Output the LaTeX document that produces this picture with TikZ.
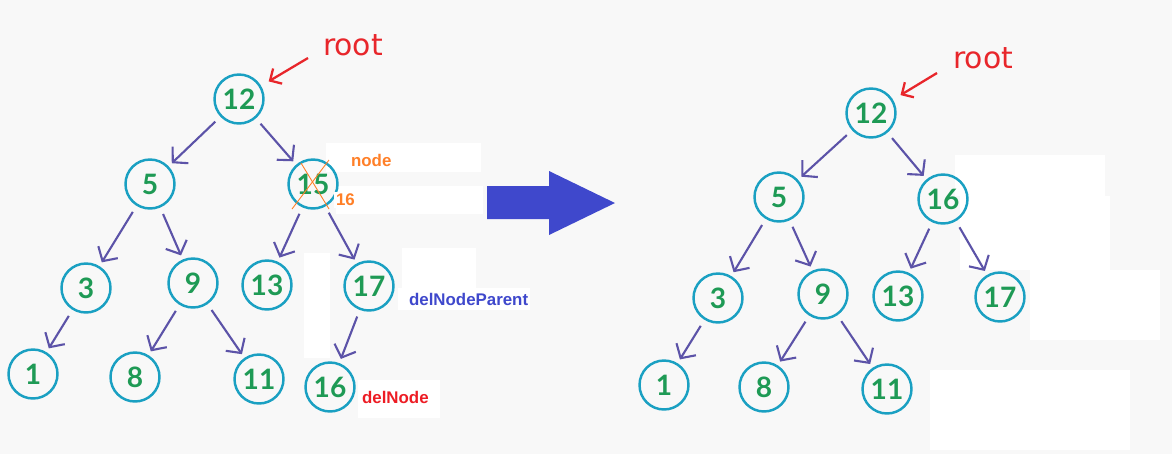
\documentclass[tikz,border=0pt]{standalone}
\usepackage{fontspec}
\setmainfont{Liberation Sans}
\newfontfamily\digitfont{Lato}
\newfontfamily\rootfont{DejaVu Sans}
\usetikzlibrary{arrows.meta}
\definecolor{bgc}{HTML}{F8F8F8}
\definecolor{ringc}{HTML}{1AA0C2}
\definecolor{digitc}{HTML}{1E9A55}
\definecolor{edgec}{HTML}{5C53A8}
\definecolor{bigc}{HTML}{3F48CC}
\definecolor{orangec}{HTML}{FF7F27}
\definecolor{redc}{HTML}{E8262B}
\definecolor{dredc}{HTML}{ED1C24}
\tikzset{
  tnode/.style={circle, draw=ringc, line width=1.4pt, minimum size=0.98cm, inner sep=0pt,
    text=digitc, font=\digitfont\bfseries\fontsize{16}{16}\selectfont},
  edge/.style={draw=edgec, line width=1.2pt, shorten <=4pt, shorten >=2.5pt,
    -{Straight Barb[length=6pt,width=13pt,line width=1.2pt]}},
  rootarrow/.style={draw=redc, line width=1.3pt, shorten >=5pt,
    -{Straight Barb[length=5pt,width=10pt,line width=1.3pt]}},
  rootlbl/.style={text=redc, font=\rootfont\fontsize{17}{17}\selectfont, inner sep=0pt},
  lbl/.style={font=\bfseries\fontsize{9.6}{10}\selectfont, inner sep=1pt, fill=white},
  patch/.style={fill=white, draw=none},
}
\begin{document}
\begin{tikzpicture}[x=0.02cm,y=-0.02cm]
\fill[bgc] (0,0) rectangle (1172,454);
\useasboundingbox (0,0) rectangle (1172,454);
% white patches
\fill[patch] (326,143) rectangle (481,172);
\fill[patch] (336,186) rectangle (483,214);
\fill[patch] (304,253) rectangle (330,358);
\fill[patch] (402,248) rectangle (476,288);
\fill[patch] (398,288) rectangle (530,310);
\fill[patch] (358,380) rectangle (440,418);
\fill[patch] (955,155) rectangle (1105,196);
\fill[patch] (960,196) rectangle (1110,270);
\fill[patch] (1030,270) rectangle (1160,340);
\fill[patch] (930,370) rectangle (1130,450);
% ---------- left tree ----------
\node[tnode] (L12) at (239,99) {12};
\node[tnode] (L5)  at (150,184) {5};
\node[tnode] (L15) at (313,184) {15};
\node[tnode] (L3)  at (86,288) {3};
\node[tnode] (L9)  at (193,283) {9};
\node[tnode] (L13) at (267,285) {13};
\node[tnode] (L17) at (369,286) {17};
\node[tnode] (L1)  at (33,374) {1};
\node[tnode] (L8)  at (135,377) {8};
\node[tnode] (L11) at (259,379) {11};
\node[tnode] (L16) at (330,387) {16};
\draw[edge] (L12) -- (L5);
\draw[edge] (L12) -- (L15);
\draw[edge] (L5) -- (L3);
\draw[edge] (L5) -- (L9);
\draw[edge] (L15) -- (L13);
\draw[edge] (L15) -- (L17);
\draw[edge] (L3) -- (L1);
\draw[edge] (L9) -- (L8);
\draw[edge] (L9) -- (L11);
\draw[edge] (L17) -- (L16);
% cross on 15
\draw[orangec, line width=0.5pt] (292,209) -- (329,160);
\draw[orangec, line width=0.5pt] (301,163) -- (329,209);
% root label left
\node[rootlbl] (Lroot) at (353,45) {root};
\coordinate (Lrs) at (308,58);
\draw[rootarrow] (Lrs) -- (L12);
% labels
\node[lbl, text=orangec, anchor=west] (lnode) at (349,160) {node};
\node[lbl, text=orangec, anchor=west] (l16) at (334,200) {16};
\node[lbl, text=bigc, anchor=west] (lpar) at (407,299) {delNodeParent};
\node[lbl, text=dredc, anchor=west] (ldel) at (360,397) {delNode};
% big arrow
\fill[bigc] (487,186) -- (549,186) -- (549,171) -- (615,203) -- (549,235) -- (549,219) -- (487,219) -- cycle;
% ---------- right tree ----------
\node[tnode] (R12) at (871,113) {12};
\node[tnode] (R5)  at (779,197) {5};
\node[tnode] (R16) at (943,199) {16};
\node[tnode] (R3)  at (718,298) {3};
\node[tnode] (R9)  at (823,294) {9};
\node[tnode] (R13) at (898,296) {13};
\node[tnode] (R17) at (1000,297) {17};
\node[tnode] (R1)  at (664,385) {1};
\node[tnode] (R8)  at (764,387) {8};
\node[tnode] (R11) at (887,389) {11};
\draw[edge] (R12) -- (R5);
\draw[edge] (R12) -- (R16);
\draw[edge] (R5) -- (R3);
\draw[edge] (R5) -- (R9);
\draw[edge] (R16) -- (R13);
\draw[edge] (R16) -- (R17);
\draw[edge] (R3) -- (R1);
\draw[edge] (R9) -- (R8);
\draw[edge] (R9) -- (R11);
\node[rootlbl] (Rroot) at (983,58) {root};
\coordinate (Rrs) at (937,73);
\draw[rootarrow] (Rrs) -- (R12);
\end{tikzpicture}
\end{document}
